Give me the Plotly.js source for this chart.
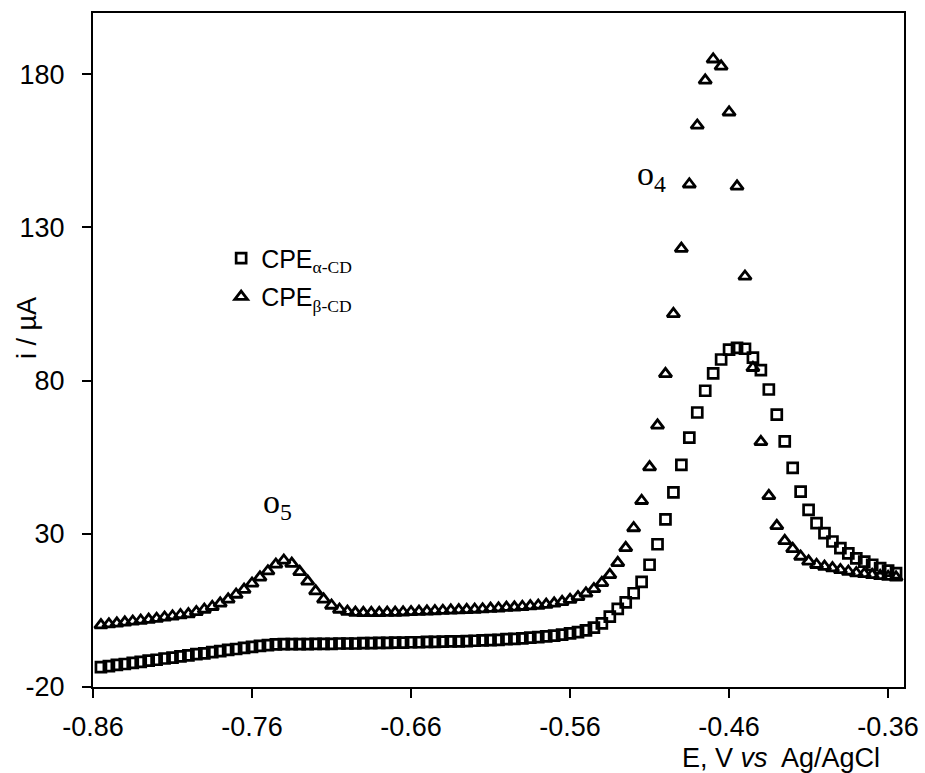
<!DOCTYPE html>
<html>
<head>
<meta charset="utf-8">
<script src="https://cdn.plot.ly/plotly-3.0.1.min.js"></script>
<style>html,body{margin:0;padding:0;background:#fff;}#chart{width:925px;height:773px;}</style>
</head>
<body>
<div id="chart"></div>
<script>
// Potential E (V vs Ag/AgCl)
const potential = [
 -0.855,-0.850,-0.845,-0.840,-0.835,-0.830,-0.825,-0.820,-0.815,-0.810,
 -0.805,-0.800,-0.795,-0.790,-0.785,-0.780,-0.775,-0.770,-0.765,-0.760,
 -0.755,-0.750,-0.745,-0.740,-0.735,-0.730,-0.725,-0.720,-0.715,-0.710,
 -0.705,-0.700,-0.695,-0.690,-0.685,-0.680,-0.675,-0.670,-0.665,-0.660,
 -0.655,-0.650,-0.645,-0.640,-0.635,-0.630,-0.625,-0.620,-0.615,-0.610,
 -0.605,-0.600,-0.595,-0.590,-0.585,-0.580,-0.575,-0.570,-0.565,-0.560,
 -0.555,-0.550,-0.545,-0.540,-0.535,-0.530,-0.525,-0.520,-0.515,-0.510,
 -0.505,-0.500,-0.495,-0.490,-0.485,-0.480,-0.475,-0.470,-0.465,-0.460,
 -0.455,-0.450,-0.445,-0.440,-0.435,-0.430,-0.425,-0.420,-0.415,-0.410,
 -0.405,-0.400,-0.395,-0.390,-0.385,-0.380,-0.375,-0.370,-0.365,-0.360,
 -0.355
];
// Current (µA) for CPE alpha-CD (squares)
const currentAlpha = [
 -13.5,-13.2,-12.8,-12.5,-12.1,-11.8,-11.4,-11.1,-10.7,-10.4,
 -10.0,-9.7,-9.3,-9.0,-8.6,-8.3,-7.9,-7.6,-7.2,-6.9,
 -6.6,-6.3,-6.1,-6.0,-6.0,-6.0,-6.0,-5.9,-5.9,-5.9,
 -5.8,-5.8,-5.8,-5.7,-5.7,-5.6,-5.6,-5.5,-5.5,-5.4,
 -5.4,-5.3,-5.3,-5.2,-5.1,-5.1,-5.0,-4.9,-4.8,-4.7,
 -4.6,-4.4,-4.3,-4.1,-3.9,-3.7,-3.5,-3.2,-2.9,-2.5,
 -2.1,-1.5,-0.6,0.8,3.0,5.5,7.6,10.6,14.3,19.9,
 26.6,34.7,43.5,52.5,61.4,69.6,76.7,82.4,86.9,90.1,
 90.7,90.4,87.5,83.4,77.1,68.9,60.2,51.5,43.8,37.8,
 33.5,30.2,27.5,25.3,23.6,22.0,20.9,19.9,18.8,18.0,
 17.2
];
// Current (µA) for CPE beta-CD (triangles)
const currentBeta = [
 0.2,0.5,0.8,1.1,1.4,1.7,2.0,2.3,2.7,3.1,
 3.5,3.8,4.5,5.3,6.2,7.3,8.6,10.2,11.8,13.8,
 15.8,17.8,20.0,21.3,20.3,17.6,14.5,11.3,8.6,6.6,
 5.3,4.6,4.3,4.2,4.2,4.2,4.3,4.3,4.4,4.5,
 4.6,4.7,4.8,4.9,5.0,5.1,5.2,5.3,5.4,5.6,
 5.7,5.9,6.0,6.2,6.4,6.6,6.9,7.3,7.8,8.5,
 9.4,10.6,12.0,14.0,16.6,20.5,25.4,31.9,40.8,51.8,
 65.4,82.2,101.8,123.1,144.1,163.3,178.0,184.9,182.6,167.6,
 143.4,114.0,84.2,60.0,42.4,32.6,27.7,25.1,22.6,21.0,
 19.9,19.3,18.8,18.2,17.7,17.2,16.9,16.6,16.3,16.0,
 15.8
];
const seriesNames = ['CPE<sub><span style="font-family:\'Liberation Serif\',\'Times New Roman\',serif">α-CD</span></sub>',
                     'CPE<sub><span style="font-family:\'Liberation Serif\',\'Times New Roman\',serif">β-CD</span></sub>'];
const xTickVals = [-0.86,-0.76,-0.66,-0.56,-0.46,-0.36];
const xTickText = ['-0.86','-0.76','-0.66','-0.56','-0.46','-0.36'];
const yTickVals = [-20,30,80,130,180];
const yTickText = ['-20','30','80','130','180'];

const sans = '"Liberation Sans", Arial, sans-serif';
const serif = '"Liberation Serif", "Times New Roman", serif';

const traces = [
  {x: potential, y: currentAlpha, name: seriesNames[0], legendgroup: 'a', type: 'scatter', mode: 'markers',
   marker: {symbol: 'square-open', size: 10, color: '#000', line: {width: 2.7, color: '#000'}}},
  {x: potential, y: currentBeta, name: seriesNames[1], legendgroup: 'b', type: 'scatter', mode: 'markers',
   marker: {symbol: 'triangle-up-open', size: 11, color: '#000', line: {width: 2.8, color: '#000'}}}
];

const axisCommon = {
  showgrid: false, zeroline: false, showline: true, linecolor: '#000', linewidth: 2,
  mirror: true, ticks: 'outside', ticklen: 9, tickwidth: 2, tickcolor: '#000',
  tickfont: {family: sans, size: 27, color: '#000'}
};

const layout = {
  width: 925, height: 773,
  margin: {l: 93, r: 21, t: 13, b: 86},
  paper_bgcolor: '#fff', plot_bgcolor: '#fff',
  font: {family: sans, color: '#000'},
  showlegend: true,
  legend: {x: 0.158, y: 0.67, xanchor: 'left', yanchor: 'top', bgcolor: 'rgba(0,0,0,0)',
           font: {family: sans, size: 25, color: '#000'}, tracegroupgap: 3, itemwidth: 30},
  xaxis: Object.assign({}, axisCommon, {range: [-0.86, -0.35], tickmode: 'array',
           tickvals: xTickVals, ticktext: xTickText, ticklabelstandoff: 6}),
  yaxis: Object.assign({}, axisCommon, {range: [-20, 200], tickmode: 'array',
           tickvals: yTickVals, ticktext: yTickText, ticklabelstandoff: 12}),
  annotations: [
    {text: 'i / µA', xref: 'paper', yref: 'paper', x: -0.0814, y: 0.5326, textangle: -90,
     xanchor: 'center', yanchor: 'middle',
     showarrow: false, font: {family: sans, size: 27, color: '#000'}},
    {text: 'E, V <i>vs</i>  Ag/AgCl', xref: 'paper', yref: 'paper', x: 0.848, y: -0.105,
     xanchor: 'center', yanchor: 'middle',
     showarrow: false, font: {family: sans, size: 27, color: '#000'}},
    {text: 'o<sub>4</sub>', xref: 'x', yref: 'y', x: -0.509, y: 146.7,
     showarrow: false, font: {family: serif, size: 34, color: '#000'}},
    {text: 'o<sub>5</sub>', xref: 'x', yref: 'y', x: -0.744, y: 39.8,
     showarrow: false, font: {family: serif, size: 34, color: '#000'}}
  ]
};

Plotly.newPlot('chart', traces, layout, {displayModeBar: false, staticPlot: true});
</script>
</body>
</html>
